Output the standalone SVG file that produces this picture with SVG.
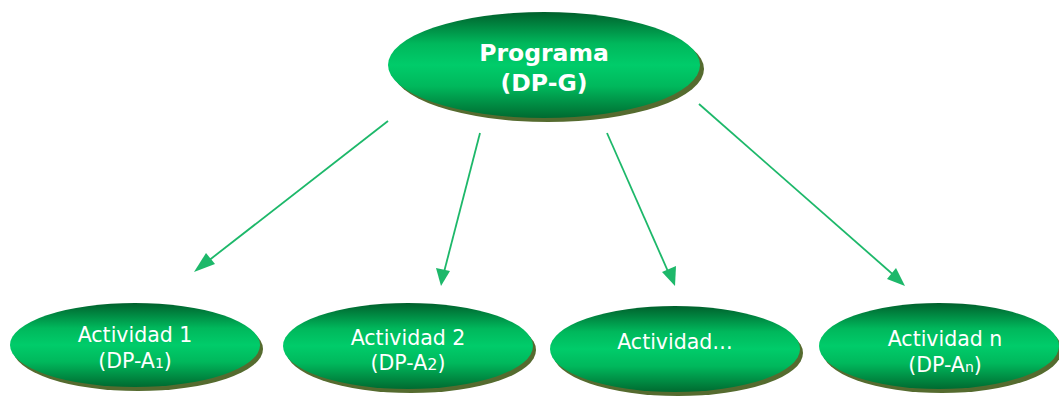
<svg xmlns="http://www.w3.org/2000/svg" width="1059" height="397" viewBox="0 0 1059 397">
<defs>
<linearGradient id="g" x1="0" y1="0" x2="0" y2="1">
<stop offset="0" stop-color="#00602C"/>
<stop offset="0.3" stop-color="#00B85C"/>
<stop offset="0.5" stop-color="#00CC6A"/>
<stop offset="0.7" stop-color="#00B85C"/>
<stop offset="1" stop-color="#006A30"/>
</linearGradient>
</defs>
<style>
.sh{fill:#556B2F}
.nd{fill:url(#g)}
.t{font-family:"DejaVu Sans",sans-serif;fill:#fff;text-anchor:middle}
.tb{font-size:23.5px;font-weight:bold}
.tn{font-size:20.5px}
.c{stroke:#1DB86A;stroke-width:1.8;fill:none}
.ah{fill:#1DB86A}
</style>
<rect width="1059" height="397" fill="#fff"/>
<g id="connectors">
<line class="c" x1="388" y1="121" x2="203" y2="265"/>
<path class="ah" d="M194,272 L206,253 L215,264 z"/>
<line class="c" x1="480" y1="133" x2="443" y2="276"/>
<path class="ah" d="M441,286 L436,268 L450,271 z"/>
<line class="c" x1="607" y1="133" x2="670" y2="276"/>
<path class="ah" d="M675,286 L662,272 L676,266 z"/>
<line class="c" x1="699" y1="104" x2="897" y2="278"/>
<path class="ah" d="M905,286 L887,279 L896,268 z"/>
</g>
<g id="node-programa">
<ellipse class="sh" cx="548" cy="69" rx="156" ry="53"/>
<ellipse class="nd" cx="544" cy="65" rx="156" ry="53"/>
<text class="t tb" x="544" y="61">Programa</text>
<text class="t tb" x="544" y="91">(DP-G)</text>
</g>
<g id="node-a1">
<ellipse class="sh" cx="138" cy="349" rx="125" ry="42"/>
<ellipse class="nd" cx="135" cy="345" rx="125" ry="42"/>
<text class="t tn" x="135" y="342">Actividad 1</text>
<text class="t tn" x="135" y="368">(DP-A<tspan font-size="14">1</tspan>)</text>
</g>
<g id="node-a2">
<ellipse class="sh" cx="411" cy="350" rx="125" ry="43"/>
<ellipse class="nd" cx="408" cy="346" rx="125" ry="43"/>
<text class="t tn" x="408" y="345">Actividad 2</text>
<text class="t tn" x="408" y="370">(DP-A<tspan font-size="16">2</tspan>)</text>
</g>
<g id="node-a3">
<ellipse class="sh" cx="678" cy="353" rx="125" ry="43"/>
<ellipse class="nd" cx="675" cy="349" rx="125" ry="43"/>
<text class="t tn" x="675" y="349">Actividad…</text>
</g>
<g id="node-an">
<ellipse class="sh" cx="942" cy="350" rx="120" ry="43"/>
<ellipse class="nd" cx="939" cy="346" rx="120" ry="43"/>
<text class="t tn" x="945" y="346">Actividad n</text>
<text class="t tn" x="945" y="372">(DP-A<tspan font-size="14">n</tspan>)</text>
</g>
</svg>
